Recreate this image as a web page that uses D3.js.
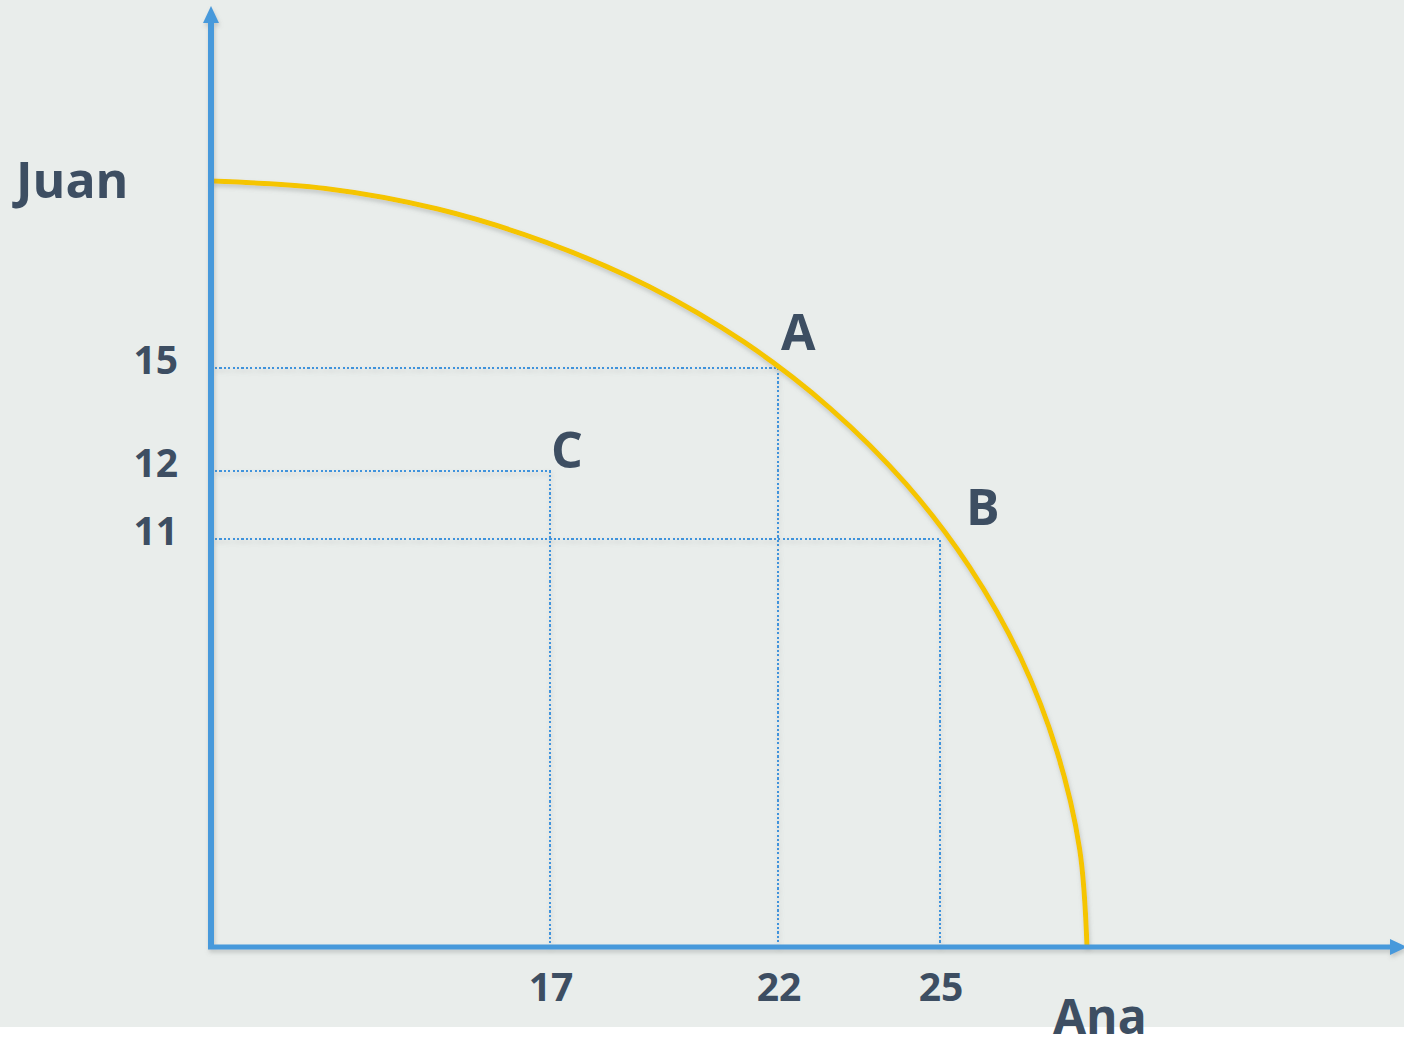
<!DOCTYPE html>
<html>
<head>
<meta charset="utf-8">
<script src="https://cdn.jsdelivr.net/npm/d3@7"></script>
<style>
	body { margin: 0; background: #fff; }
	text { font-family: "Open Sans", "Noto Sans", sans-serif; font-weight: 700; fill: #3d4e62; }
</style>
</head>
<body>
<div id="chart"></div>
<script>
// tick values on each axis
var anaTicks = [17, 22, 25];
var juanTicks = [15, 12, 11];
var anaMax = 28;
var juanMax = 20;

// labelled combinations
var pointNames = ["A", "B", "C"];
var pointAna = [22, 25, 17];
var pointJuan = [15, 11, 12];

// production possibility frontier
var frontierAna = [0, 5.73, 11.37, 16.81, 19.17, 21.26, 22.97, 24.37, 25.6, 26.64, 27.39, 27.85, 28];
var frontierJuan = [20, 19.8, 19.25, 18.36, 17.18, 15.69, 13.82, 11.81, 10.25, 7.82, 5.26, 2.64, 0];

var width = 1404, height = 1040;
var blue = "#4799db", yellow = "#f5c500";

var svg = d3.select("#chart").append("svg").attr("width", width).attr("height", height);

svg.append("rect").attr("width", width).attr("height", 1027).attr("fill", "#e9edeb");

var defs = svg.append("defs");
defs.append("filter").attr("id", "shadow").attr("x", "-5%").attr("y", "-5%").attr("width", "110%").attr("height", "110%")
	.append("feDropShadow").attr("dx", 1).attr("dy", 3).attr("stdDeviation", 2)
	.attr("flood-color", "#7a7f80").attr("flood-opacity", 0.35);

// the picture is schematic: ticks are not evenly spaced, so piecewise scales
var x = d3.scaleLinear()
	.domain([0].concat(anaTicks.slice().sort(d3.ascending), [anaMax]))
	.range([211, 550, 778, 940, 1087]);
var y = d3.scaleLinear()
	.domain([0].concat(juanTicks.slice().sort(d3.ascending), [juanMax]))
	.range([947, 539, 471, 368, 181]);

var points = pointNames.map(function(name, i) {
	return { name: name, a: pointAna[i], j: pointJuan[i] };
});

//dotted guides
var guides = svg.append("g").attr("fill", "none").attr("stroke", "#3f93dc")
	.attr("stroke-width", 2).attr("stroke-dasharray", "2.2,2.2").attr("shape-rendering", "crispEdges")
	.attr("filter", "url(#shadow)");
guides.selectAll("path").data(points).enter().append("path")
	.attr("d", function(d) {
		return "M" + (x(0) + 4) + "," + y(d.j) + "H" + x(d.a) + "V" + y(0);
	});

//frontier
var frontier = frontierAna.map(function(a, i) { return [a, frontierJuan[i]]; });
var line = d3.line()
	.x(function(d) { return x(d[0]); })
	.y(function(d) { return y(d[1]); })
	.curve(d3.curveCatmullRom.alpha(0.5));
svg.append("path").datum(frontier)
	.attr("d", line)
	.attr("fill", "none").attr("stroke", yellow).attr("stroke-width", 5)
	.attr("filter", "url(#shadow)");

//axes with arrow heads
var axes = svg.append("g").attr("filter", "url(#shadow)");
axes.append("line").attr("x1", x(0)).attr("y1", y(0) + 2).attr("x2", x(0)).attr("y2", 20)
	.attr("stroke", blue).attr("stroke-width", 6);
axes.append("path").attr("d", "M" + (x(0) - 8) + ",23L" + x(0) + ",6L" + (x(0) + 8) + ",23Z").attr("fill", blue);
axes.append("line").attr("x1", x(0) - 3).attr("y1", y(0)).attr("x2", 1395).attr("y2", y(0))
	.attr("stroke", blue).attr("stroke-width", 5);
axes.append("path").attr("d", "M1390," + (y(0) - 8) + "L1407," + y(0) + "L1390," + (y(0) + 8) + "Z").attr("fill", blue);

//tick labels
svg.selectAll(".xtick").data(anaTicks).enter().append("text")
	.attr("class", "xtick")
	.attr("x", function(d) { return x(d) + 1; })
	.attr("y", 1001)
	.attr("text-anchor", "middle")
	.attr("font-size", 39)
	.text(function(d) { return d; });
svg.selectAll(".ytick").data(juanTicks).enter().append("text")
	.attr("class", "ytick")
	.attr("x", 178)
	.attr("y", function(d) { return y(d) + 6; })
	.attr("text-anchor", "end")
	.attr("font-size", 39)
	.text(function(d) { return d; });

//point labels
var labelOffset = { A: [3, -18], B: [26, -14], C: [1, -3] };
svg.selectAll(".plabel").data(points).enter().append("text")
	.attr("class", "plabel")
	.attr("x", function(d) { return x(d.a) + labelOffset[d.name][0]; })
	.attr("y", function(d) { return y(d.j) + labelOffset[d.name][1]; })
	.attr("font-size", 50)
	.text(function(d) { return d.name; });

//axis titles
svg.append("text").attr("x", 16).attr("y", 198).attr("font-size", 50).text("Juan");
svg.append("text").attr("x", 1053).attr("y", 1034).attr("font-size", 48).text("Ana");
</script>
</body>
</html>
